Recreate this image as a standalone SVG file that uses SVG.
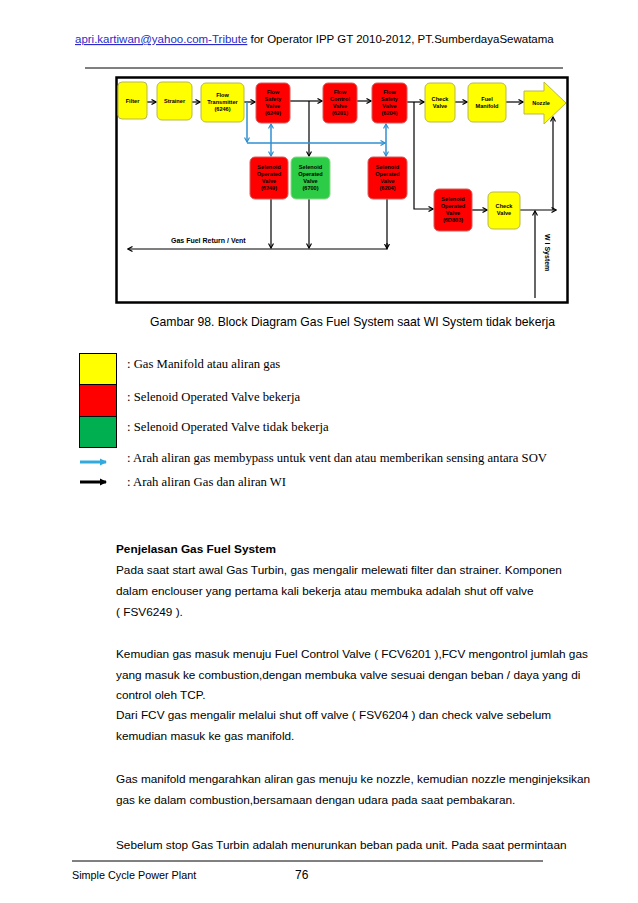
<svg xmlns="http://www.w3.org/2000/svg" width="638" height="903" viewBox="0 0 638 903">
<defs>
<marker id="ah" markerWidth="6" markerHeight="6" refX="5" refY="3" orient="auto" markerUnits="userSpaceOnUse"><path d="M0.5,0.5 L5,3 L0.5,5.5" fill="none" stroke="#000" stroke-width="1.2"/></marker>
<marker id="bh" markerWidth="6" markerHeight="6" refX="5" refY="3" orient="auto" markerUnits="userSpaceOnUse"><path d="M0.5,0.5 L5,3 L0.5,5.5" fill="none" stroke="#2f8fd0" stroke-width="1.2"/></marker>
<marker id="bhs" markerWidth="6" markerHeight="6" refX="1" refY="3" orient="auto" markerUnits="userSpaceOnUse"><path d="M5.5,0.5 L1,3 L5.5,5.5" fill="none" stroke="#2f8fd0" stroke-width="1.2"/></marker>
<marker id="lb" markerWidth="8" markerHeight="8" refX="6" refY="4" orient="auto" markerUnits="userSpaceOnUse"><path d="M0,0.5 L7,4 L0,7.5 Z" fill="#33aadd"/></marker>
<marker id="lk" markerWidth="8" markerHeight="8" refX="6" refY="4" orient="auto" markerUnits="userSpaceOnUse"><path d="M0,0.5 L7,4 L0,7.5 Z" fill="#000"/></marker>
</defs>
<style>
.y{fill:#ffff00;stroke:#b8b84a;stroke-width:1}
.r{fill:#ff0000;stroke:#d85a5a;stroke-width:1}
.g{fill:#2ccc46;stroke:#8ad88a;stroke-width:1}
.bt{font-family:"Liberation Sans",Arial,sans-serif;font-size:5.6px;font-weight:bold;text-anchor:middle;fill:#000}
.k{fill:none;stroke:#000;stroke-width:1.2}
.b{fill:none;stroke:#2f8fd0;stroke-width:1.5}
.ar{font-family:"Liberation Sans",Arial,sans-serif;fill:#000}
.tm{font-family:"Liberation Serif","Times New Roman",serif;font-size:12.7px;fill:#000}
.body{font-family:"Liberation Sans",Arial,sans-serif;font-size:11.8px;fill:#000}
</style>
<rect width="638" height="903" fill="#fff"/>

<!-- header -->
<text class="ar" x="75" y="43" font-size="11.5"><tspan fill="#2b2bc8" text-decoration="underline">apri.kartiwan@yahoo.com-Tribute</tspan> for Operator IPP GT 2010-2012, PT.SumberdayaSewatama</text>
<line x1="85" y1="68" x2="563" y2="68" stroke="#000" stroke-width="1"/>

<!-- frame -->
<rect x="116.5" y="77.5" width="451" height="225" fill="#fff" stroke="#000" stroke-width="2.5"/>

<!-- connectors -->
<g id="connectors">
<line class="k" x1="147" y1="102" x2="156" y2="102" marker-end="url(#ah)"/>
<line class="k" x1="192" y1="102" x2="200" y2="102" marker-end="url(#ah)"/>
<line class="k" x1="244" y1="102" x2="255" y2="102" marker-end="url(#ah)"/>
<line class="k" x1="290" y1="101" x2="322" y2="101" marker-end="url(#ah)"/>
<line class="k" x1="309" y1="101" x2="309" y2="156" marker-end="url(#ah)"/>
<line class="k" x1="357" y1="101" x2="371" y2="101" marker-end="url(#ah)"/>
<line class="k" x1="407" y1="102" x2="424" y2="102" marker-end="url(#ah)"/>
<polyline class="k" points="414,102 414,209 433,209" marker-end="url(#ah)"/>
<line class="k" x1="455" y1="102" x2="467" y2="102" marker-end="url(#ah)"/>
<line class="k" x1="506" y1="102" x2="523" y2="102" marker-end="url(#ah)"/>
<line class="k" x1="472" y1="210" x2="487" y2="210" marker-end="url(#ah)"/>
<line class="k" x1="520" y1="210" x2="556" y2="210" marker-end="url(#ah)"/>
<line class="k" x1="553" y1="210" x2="553" y2="117" marker-end="url(#ah)"/>
<line class="k" x1="535" y1="298" x2="535" y2="211" marker-end="url(#ah)"/>
<line class="k" x1="271" y1="199" x2="271" y2="248" marker-end="url(#ah)"/>
<line class="k" x1="309" y1="199" x2="309" y2="248" marker-end="url(#ah)"/>
<polyline class="k" points="387,199 387,249 128,249" marker-end="url(#ah)"/>
<line class="k" x1="387" y1="243" x2="387" y2="248.5" marker-end="url(#ah)"/>
<text class="ar" x="171" y="243" font-size="7" font-weight="bold">Gas Fuel Return / Vent</text>
<text class="ar" x="0" y="0" font-size="7" font-weight="bold" transform="translate(545,234) rotate(90)">W I   System</text>
<line class="b" x1="247" y1="102" x2="247" y2="142" marker-end="url(#bh)"/>
<line class="b" x1="247" y1="143" x2="385" y2="143" marker-end="url(#bh)"/>
<line class="b" x1="271" y1="124" x2="271" y2="156" marker-start="url(#bhs)" marker-end="url(#bh)"/>
<line class="b" x1="386" y1="124" x2="386" y2="156" marker-start="url(#bhs)" marker-end="url(#bh)"/>
</g>

<!-- nodes -->
<g id="filter"><rect class="y" x="118" y="82" width="29" height="37" rx="4"/><text class="bt" x="132.5" y="103">Filter</text></g>
<g id="strainer"><rect class="y" x="157" y="82" width="35" height="38" rx="5"/><text class="bt" x="174.5" y="103">Strainer</text></g>
<g id="flow-transmitter"><rect class="y" x="201" y="83" width="43" height="39" rx="5"/><text class="bt" x="222.5" y="97">Flow</text><text class="bt" x="222.5" y="104">Transmitter</text><text class="bt" x="222.5" y="111">(6246)</text></g>
<g id="fsv-6249"><rect class="r" x="256" y="83" width="34" height="40" rx="5"/><text class="bt" x="273" y="94">Flow</text><text class="bt" x="273" y="101">Safety</text><text class="bt" x="273" y="108">Valve</text><text class="bt" x="273" y="115">(6249)</text></g>
<g id="fcv-6201"><rect class="r" x="323" y="83" width="34" height="40" rx="5"/><text class="bt" x="340" y="94">Flow</text><text class="bt" x="340" y="101">Control</text><text class="bt" x="340" y="108">Valve</text><text class="bt" x="340" y="115">(6201)</text></g>
<g id="fsv-6204"><rect class="r" x="372" y="83" width="35" height="40" rx="5"/><text class="bt" x="389.5" y="94">Flow</text><text class="bt" x="389.5" y="101">Safety</text><text class="bt" x="389.5" y="108">Valve</text><text class="bt" x="389.5" y="115">(6204)</text></g>
<g id="check-valve"><rect class="y" x="425" y="83" width="30" height="39" rx="5"/><text class="bt" x="440" y="101">Check</text><text class="bt" x="440" y="108">Valve</text></g>
<g id="fuel-manifold"><rect class="y" x="468" y="83" width="38" height="39" rx="5"/><text class="bt" x="487" y="101">Fuel</text><text class="bt" x="487" y="108">Manifold</text></g>
<g id="nozzle"><polygon class="y" points="524,91 544,91 544,82 566,103 544,124 544,114 524,114"/><text class="bt" x="541" y="105">Nozzle</text></g>
<g id="sov-6249"><rect class="r" x="250" y="157" width="38" height="42" rx="5"/><text class="bt" x="269" y="169">Selenoid</text><text class="bt" x="269" y="176">Operated</text><text class="bt" x="269" y="183">Valve</text><text class="bt" x="269" y="190">(6249)</text></g>
<g id="sov-6700"><rect class="g" x="291" y="157" width="39" height="42" rx="5"/><text class="bt" x="310.5" y="169">Selenoid</text><text class="bt" x="310.5" y="176">Operated</text><text class="bt" x="310.5" y="183">Valve</text><text class="bt" x="310.5" y="190">(6700)</text></g>
<g id="sov-6204"><rect class="r" x="368" y="157" width="39" height="42" rx="5"/><text class="bt" x="387.5" y="169">Selenoid</text><text class="bt" x="387.5" y="176">Operated</text><text class="bt" x="387.5" y="183">Valve</text><text class="bt" x="387.5" y="190">(6204)</text></g>
<g id="sov-6d803"><rect class="r" x="434" y="189" width="38" height="42" rx="5"/><text class="bt" x="453" y="201">Selenoid</text><text class="bt" x="453" y="208">Operated</text><text class="bt" x="453" y="215">Valve</text><text class="bt" x="453" y="222">(6D803)</text></g>
<g id="check-valve-wi"><rect class="y" x="488" y="192" width="32" height="37" rx="5"/><text class="bt" x="504" y="208">Check</text><text class="bt" x="504" y="215">Valve</text></g>

<!-- caption -->
<text class="ar" x="150" y="326" font-size="12.2">Gambar 98. Block Diagram Gas Fuel System saat WI System tidak bekerja</text>

<!-- legend -->
<g id="legend">
<rect x="79.5" y="353.5" width="37" height="31" fill="#ffff00" stroke="#000" stroke-width="1"/>
<rect x="79.5" y="384.5" width="37" height="32" fill="#ff0000" stroke="#000" stroke-width="1"/>
<rect x="79.5" y="416.5" width="37" height="31" fill="#00b050" stroke="#000" stroke-width="1"/>
<line x1="80" y1="462" x2="106" y2="462" stroke="#33aadd" stroke-width="3" marker-end="url(#lb)"/>
<line x1="80" y1="482" x2="106" y2="482" stroke="#000" stroke-width="3" marker-end="url(#lk)"/>
<text class="tm" x="127" y="368">: Gas Manifold atau aliran gas</text>
<text class="tm" x="127" y="401">: Selenoid Operated Valve bekerja</text>
<text class="tm" x="127" y="431">: Selenoid Operated Valve tidak bekerja</text>
<text class="tm" x="127" y="462" font-size="12.4">: Arah aliran gas membypass untuk vent dan atau memberikan sensing antara SOV</text>
<text class="tm" x="127" y="486">: Arah aliran Gas dan aliran WI</text>
</g>

<!-- body -->
<text class="body" x="116" y="553" font-weight="bold">Penjelasan Gas Fuel System</text>
<text class="body" x="116" y="574">Pada saat start awal Gas Turbin, gas mengalir melewati filter dan strainer. Komponen</text>
<text class="body" x="116" y="595">dalam enclouser yang pertama kali bekerja atau membuka adalah shut off valve</text>
<text class="body" x="116" y="616">( FSV6249 ).</text>
<text class="body" x="116" y="658">Kemudian gas masuk menuju Fuel Control Valve ( FCV6201 ),FCV mengontrol jumlah gas</text>
<text class="body" x="116" y="679">yang masuk ke combustion,dengan membuka valve sesuai dengan beban / daya yang di</text>
<text class="body" x="116" y="699">control oleh TCP.</text>
<text class="body" x="116" y="719">Dari FCV gas mengalir melalui shut off valve ( FSV6204 ) dan check valve sebelum</text>
<text class="body" x="116" y="740">kemudian masuk ke gas manifold.</text>
<text class="body" x="116" y="783">Gas manifold mengarahkan aliran gas menuju ke nozzle, kemudian nozzle menginjeksikan</text>
<text class="body" x="116" y="804">gas ke dalam combustion,bersamaan dengan udara  pada saat pembakaran.</text>
<text class="body" x="116" y="849">Sebelum stop Gas Turbin adalah menurunkan beban pada unit. Pada saat permintaan</text>

<!-- footer -->
<line x1="72" y1="861" x2="543" y2="861" stroke="#000" stroke-width="1"/>
<text class="ar" x="72" y="879" font-size="10.8">Simple Cycle Power Plant</text>
<text class="ar" x="295" y="879" font-size="12">76</text>
</svg>
